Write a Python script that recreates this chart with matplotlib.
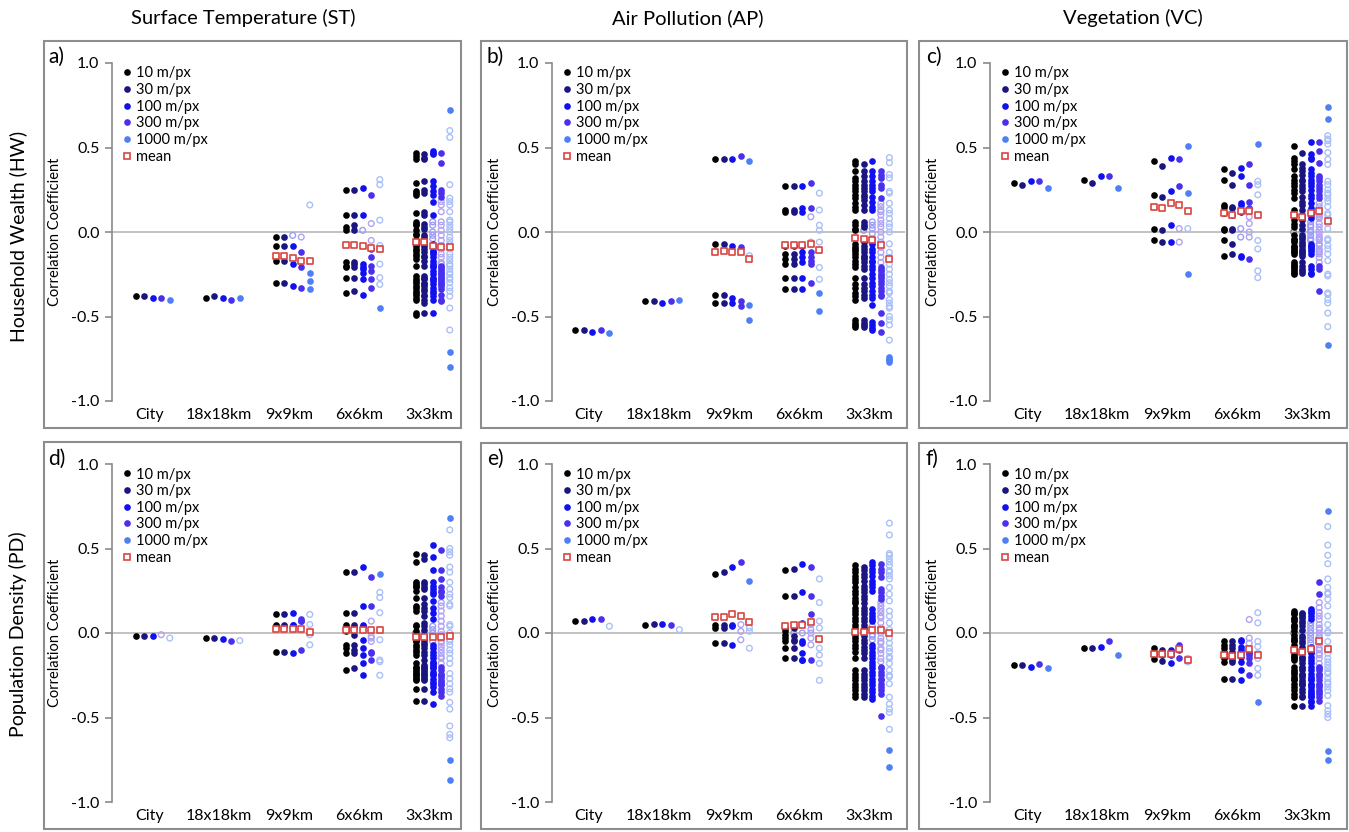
import numpy as np
import matplotlib.pyplot as plt
from matplotlib.lines import Line2D
from matplotlib.patches import Rectangle

plt.rcParams['font.family'] = ['Lato', 'DejaVu Sans']
plt.rcParams['axes.unicode_minus'] = False

scales = ['City', '18x18km', '9x9km', '6x6km', '3x3km']
resolutions = ['10 m/px', '30 m/px', '100 m/px', '300 m/px', '1000 m/px']
col_titles = ['Surface Temperature (ST)', 'Air Pollution (AP)', 'Vegetation (VC)']
row_titles = ['Household Wealth (HW)', 'Population Density (PD)']

res_colors = ['#000000', '#1b1580', '#1010f0', '#4830ee', '#4f7ff4']
hollow_colors = ['#8c8c8c', '#9b98cc', '#9c9cf6', '#b0a2f5', '#aac0f8']
mean_color = '#d9443f'

# |r| below these is drawn as an open circle (not significant), per scale x resolution
crit_r = [[0.0, 0.0, 0.015, 0.02, 0.05],
          [0.0, 0.0, 0.01, 0.033, 0.11],
          [0.0, 0.005, 0.022, 0.065, 0.22],
          [0.003, 0.01, 0.033, 0.098, 0.33],
          [0.0065, 0.02, 0.065, 0.197, 0.665]]

# ---- a) HW vs ST
a_city = [-0.38, -0.38, -0.39, -0.39, -0.40]
a_18km = [-0.39, -0.38, -0.39, -0.40, -0.39]
a_9km = [[-0.03, -0.08, -0.17, -0.30], [-0.03, -0.08, -0.17, -0.30], [-0.02, -0.08, -0.19, -0.32],
         [-0.03, -0.12, -0.21, -0.33], [0.16, -0.24, -0.29, -0.34]]
a_6km = [[0.25, 0.10, 0.03, 0.01, -0.18, -0.20, -0.21, -0.27, -0.36],
         [0.25, 0.10, 0.04, 0.01, -0.18, -0.19, -0.21, -0.27, -0.35],
         [0.26, 0.10, 0.01, -0.19, -0.21, -0.22, -0.24, -0.28, -0.37],
         [0.22, 0.05, -0.05, -0.10, -0.15, -0.20, -0.23, -0.28, -0.33],
         [0.31, 0.28, 0.07, -0.08, -0.10, -0.19, -0.27, -0.31, -0.45]]
a_3km = [[0.47, 0.45, 0.43, 0.29, 0.24, 0.23, 0.22, 0.11, 0.06, 0.05, 0.04, 0.01, -0.01, -0.02, -0.05, -0.07, -0.08, -0.10,
          -0.11, -0.13, -0.14, -0.16, -0.20, -0.26, -0.28, -0.29, -0.30, -0.32, -0.33, -0.35, -0.36, -0.37, -0.39, -0.40, -0.48, -0.49],
         [0.46, 0.44, 0.43, 0.30, 0.25, 0.23, 0.12, 0.10, 0.05, 0.03, 0.02, -0.02, -0.03, -0.05, -0.07, -0.08, -0.10, -0.12,
          -0.14, -0.15, -0.17, -0.20, -0.26, -0.27, -0.28, -0.30, -0.31, -0.32, -0.34, -0.35, -0.37, -0.38, -0.40, -0.42, -0.48, -0.06],
         [0.48, 0.46, 0.47, 0.30, 0.27, 0.24, 0.22, 0.18, 0.10, 0.06, 0.04, 0.0, -0.02, -0.04, -0.07, -0.09, -0.11, -0.13,
          -0.15, -0.17, -0.19, -0.21, -0.23, -0.25, -0.27, -0.29, -0.31, -0.33, -0.35, -0.36, -0.38, -0.40, -0.48, -0.12, -0.20, -0.28],
         [0.47, 0.41, 0.25, 0.23, 0.21, 0.18, 0.16, 0.12, 0.06, 0.04, 0.01, -0.02, -0.05, -0.08, -0.10, -0.13, -0.15, -0.18,
          -0.20, -0.21, -0.22, -0.23, -0.24, -0.25, -0.26, -0.27, -0.28, -0.29, -0.30, -0.31, -0.32, -0.34, -0.37, -0.40, -0.41, -0.19],
         [0.72, 0.60, 0.56, 0.28, 0.20, 0.18, 0.16, 0.12, 0.07, 0.06, 0.02, 0.0, -0.03, -0.05, -0.07, -0.10, -0.13, -0.15,
          -0.17, -0.19, -0.20, -0.22, -0.24, -0.25, -0.27, -0.28, -0.30, -0.33, -0.38, -0.45, -0.58, -0.71, -0.80, -0.09, 0.04, -0.35]]
a_means = [[-0.14, -0.14, -0.155, -0.17, -0.17], [-0.075, -0.075, -0.085, -0.095, -0.10], [-0.06, -0.06, -0.08, -0.09, -0.09]]

# ---- b) HW vs AP
b_city = [-0.58, -0.58, -0.59, -0.58, -0.60]
b_18km = [-0.41, -0.41, -0.42, -0.41, -0.40]
b_9km = [[0.43, -0.07, -0.37, -0.42], [0.43, -0.07, -0.37, -0.42], [0.43, -0.08, -0.39, -0.42],
         [0.45, -0.09, -0.41, -0.44], [0.42, -0.14, -0.43, -0.52]]
b_6km = [[0.27, 0.13, 0.12, -0.08, -0.13, -0.16, -0.19, -0.27, -0.34],
         [0.27, 0.13, 0.12, -0.08, -0.13, -0.16, -0.19, -0.27, -0.34],
         [0.27, 0.14, 0.12, -0.08, -0.12, -0.15, -0.18, -0.27, -0.34],
         [0.29, 0.14, 0.09, -0.06, -0.12, -0.15, -0.17, -0.19, -0.30],
         [0.23, 0.13, 0.04, 0.01, -0.06, -0.21, -0.28, -0.36, -0.47]]
b_3km = [[0.42, 0.40, 0.36, 0.32, 0.30, 0.28, 0.26, 0.24, 0.22, 0.20, 0.17, 0.15, 0.13, 0.06, 0.04, 0.02, -0.07, -0.09,
          -0.11, -0.13, -0.15, -0.17, -0.19, -0.21, -0.27, -0.31, -0.33, -0.36, -0.38, -0.40, -0.52, -0.54, -0.55, -0.56, 0.01, -0.10],
         [0.40, 0.36, 0.33, 0.30, 0.28, 0.26, 0.24, 0.22, 0.19, 0.16, 0.13, 0.06, 0.04, 0.03, -0.06, -0.08, -0.10, -0.12,
          -0.14, -0.16, -0.18, -0.20, -0.22, -0.27, -0.31, -0.33, -0.35, -0.37, -0.39, -0.52, -0.54, -0.55, -0.56, 0.21, -0.15, 0.01],
         [0.42, 0.36, 0.33, 0.30, 0.28, 0.26, 0.24, 0.21, 0.18, 0.15, 0.13, 0.06, 0.04, 0.02, -0.01, -0.04, -0.07, -0.10,
          -0.12, -0.15, -0.17, -0.20, -0.22, -0.25, -0.27, -0.30, -0.32, -0.35, -0.37, -0.39, -0.43, -0.53, -0.55, -0.57, -0.58, -0.18],
         [0.36, 0.34, 0.32, 0.28, 0.26, 0.20, 0.17, 0.15, 0.12, 0.10, 0.07, 0.05, 0.03, 0.0, -0.03, -0.06, -0.09, -0.12,
          -0.15, -0.18, -0.21, -0.23, -0.25, -0.27, -0.29, -0.31, -0.33, -0.35, -0.37, -0.38, -0.48, -0.54, -0.59, -0.22, -0.26, 0.13],
         [0.44, 0.41, 0.34, 0.32, 0.24, 0.23, 0.17, 0.13, 0.11, 0.05, 0.03, -0.07, -0.15, -0.22, -0.25, -0.28, -0.30, -0.35,
          -0.36, -0.40, -0.44, -0.45, -0.50, -0.52, -0.55, -0.64, -0.74, -0.75, -0.76, -0.77, 0.0, -0.12, -0.19, -0.32, 0.08, -0.42]]
b_means = [[-0.12, -0.11, -0.12, -0.12, -0.16], [-0.077, -0.077, -0.077, -0.073, -0.105], [-0.035, -0.04, -0.045, -0.075, -0.16]]

# ---- c) HW vs VC
c_city = [0.29, 0.28, 0.30, 0.30, 0.26]
c_18km = [0.31, 0.29, 0.33, 0.33, 0.26]
c_9km = [[0.42, 0.22, 0.02, -0.05], [0.39, 0.21, 0.01, -0.06], [0.44, 0.24, 0.04, -0.06],
         [0.43, 0.27, 0.02, -0.06], [0.51, 0.23, 0.02, -0.25]]
c_6km = [[0.37, 0.31, 0.16, 0.15, 0.11, 0.02, 0.01, -0.05, -0.14],
         [0.35, 0.28, 0.15, 0.14, 0.10, 0.02, 0.01, -0.07, -0.13],
         [0.38, 0.33, 0.17, 0.16, 0.12, 0.02, -0.03, -0.14, -0.15],
         [0.40, 0.28, 0.18, 0.14, 0.09, 0.05, 0.0, -0.03, -0.16],
         [0.52, 0.30, 0.28, 0.22, 0.10, -0.05, -0.10, -0.23, -0.27]]
c_3km = [[0.51, 0.44, 0.42, 0.40, 0.37, 0.33, 0.31, 0.29, 0.27, 0.25, 0.23, 0.20, 0.13, 0.10, 0.05, 0.03, 0.0, -0.02,
          -0.04, -0.05, -0.06, -0.08, -0.09, -0.10, -0.11, -0.12, -0.13, -0.18, -0.19, -0.20, -0.21, -0.22, -0.23, -0.24, -0.25, 0.07],
         [0.47, 0.40, 0.38, 0.36, 0.34, 0.31, 0.30, 0.28, 0.26, 0.24, 0.21, 0.18, 0.16, 0.13, 0.10, 0.08, 0.07, 0.04,
          0.02, 0.0, -0.02, -0.03, -0.04, -0.06, -0.07, -0.08, -0.10, -0.11, -0.12, -0.13, -0.14, -0.18, -0.20, -0.22, -0.23, -0.24],
         [0.53, 0.46, 0.44, 0.43, 0.37, 0.35, 0.33, 0.31, 0.29, 0.27, 0.25, 0.22, 0.20, 0.17, 0.14, 0.12, 0.10, 0.08,
          0.06, 0.04, 0.03, 0.01, 0.0, -0.02, -0.04, -0.05, -0.07, -0.08, -0.09, -0.10, -0.11, -0.13, -0.20, -0.22, -0.24, -0.25],
         [0.53, 0.48, 0.41, 0.33, 0.32, 0.30, 0.28, 0.26, 0.24, 0.22, 0.20, 0.17, 0.15, 0.13, 0.11, 0.10, 0.09, 0.08,
          0.05, 0.03, 0.01, -0.01, -0.03, -0.04, -0.05, -0.07, -0.08, -0.10, -0.11, -0.12, -0.13, -0.15, -0.18, -0.20, -0.22, -0.35],
         [0.74, 0.67, 0.57, 0.55, 0.54, 0.52, 0.47, 0.43, 0.40, 0.28, 0.25, 0.23, 0.22, 0.20, 0.18, 0.11, 0.05, -0.04,
          -0.05, -0.08, -0.17, -0.25, -0.26, -0.36, -0.37, -0.40, -0.42, -0.48, -0.56, -0.67, 0.10, 0.02, -0.10, 0.30, -0.13, 0.15]]
c_means = [[0.15, 0.14, 0.17, 0.16, 0.125], [0.11, 0.10, 0.125, 0.125, 0.10], [0.10, 0.09, 0.11, 0.125, 0.065]]

# ---- d) PD vs ST
d_city = [-0.02, -0.02, -0.02, -0.01, -0.03]
d_18km = [-0.03, -0.03, -0.035, -0.045, -0.045]
d_9km = [[0.11, 0.05, 0.04, -0.11], [0.11, 0.05, 0.04, -0.11], [0.12, 0.05, 0.05, -0.12],
         [0.08, 0.07, 0.07, -0.10], [0.11, 0.05, -0.01, -0.07]]
d_6km = [[0.36, 0.12, 0.05, 0.03, 0.01, -0.07, -0.09, -0.12, -0.22],
         [0.36, 0.12, 0.05, 0.03, -0.01, -0.07, -0.10, -0.12, -0.21],
         [0.39, 0.16, 0.05, 0.04, -0.04, -0.09, -0.13, -0.18, -0.25],
         [0.33, 0.16, 0.07, -0.02, -0.03, -0.05, -0.11, -0.12, -0.16],
         [0.35, 0.24, 0.21, 0.12, 0.02, -0.04, -0.16, -0.17, -0.25]]
d_3km = [[0.47, 0.42, 0.30, 0.29, 0.28, 0.27, 0.25, 0.21, 0.16, 0.15, 0.13, 0.05, 0.04, 0.01, 0.0, -0.01, -0.03, -0.05,
          -0.05, -0.07, -0.08, -0.10, -0.11, -0.13, -0.18, -0.20, -0.21, -0.22, -0.23, -0.24, -0.25, -0.26, -0.27, -0.28, -0.33, -0.40],
         [0.46, 0.44, 0.30, 0.29, 0.27, 0.26, 0.21, 0.17, 0.15, 0.13, 0.10, 0.06, 0.04, 0.02, 0.0, -0.02, -0.03, -0.04,
          -0.06, -0.07, -0.09, -0.11, -0.13, -0.16, -0.19, -0.20, -0.21, -0.22, -0.23, -0.24, -0.25, -0.26, -0.27, -0.28, -0.33, -0.40],
         [0.52, 0.45, 0.37, 0.30, 0.28, 0.26, 0.24, 0.23, 0.19, 0.15, 0.12, 0.08, 0.04, 0.02, 0.0, -0.02, -0.05, -0.07,
          -0.09, -0.11, -0.13, -0.15, -0.17, -0.18, -0.19, -0.20, -0.21, -0.23, -0.24, -0.25, -0.27, -0.29, -0.30, -0.32, -0.35, -0.42],
         [0.49, 0.37, 0.32, 0.27, 0.25, 0.24, 0.22, 0.18, 0.16, 0.13, 0.10, 0.07, 0.04, 0.01, -0.01, -0.03, -0.05, -0.06,
          -0.08, -0.10, -0.12, -0.14, -0.15, -0.18, -0.20, -0.22, -0.24, -0.25, -0.26, -0.28, -0.29, -0.30, -0.31, -0.33, -0.35, -0.37],
         [0.68, 0.61, 0.50, 0.48, 0.46, 0.39, 0.36, 0.26, 0.23, 0.17, 0.16, 0.05, 0.04, 0.0, -0.02, -0.04, -0.05, -0.07,
          -0.10, -0.15, -0.18, -0.24, -0.27, -0.30, -0.33, -0.35, -0.41, -0.45, -0.55, -0.60, -0.62, -0.75, -0.87, 0.30, -0.12, 0.21]]
d_means = [[0.025, 0.025, 0.025, 0.025, 0.006], [0.016, 0.016, 0.016, 0.016, 0.016], [-0.025, -0.025, -0.025, -0.025, -0.016]]

# ---- e) PD vs AP
e_city = [0.07, 0.07, 0.08, 0.08, 0.04]
e_18km = [0.045, 0.055, 0.055, 0.045, 0.02]
e_9km = [[0.35, 0.05, 0.03, -0.06], [0.36, 0.05, 0.03, -0.06], [0.39, 0.05, 0.04, -0.07],
         [0.42, 0.05, 0.01, -0.04], [0.31, 0.03, 0.01, -0.09]]
e_6km = [[0.37, 0.22, 0.03, 0.01, -0.01, -0.03, -0.05, -0.09, -0.15],
         [0.38, 0.22, 0.03, 0.0, -0.02, -0.04, -0.05, -0.09, -0.15],
         [0.41, 0.24, 0.06, 0.0, -0.05, -0.06, -0.12, -0.16, -0.16],
         [0.39, 0.22, 0.11, 0.05, 0.02, 0.0, -0.03, -0.07, -0.16],
         [0.32, 0.18, 0.07, 0.03, -0.04, -0.09, -0.13, -0.18, -0.28]]
e_3km = [[0.40, 0.38, 0.36, 0.34, 0.32, 0.30, 0.27, 0.25, 0.23, 0.21, 0.19, 0.18, 0.15, 0.13, 0.11, 0.09, 0.07, 0.05,
          0.03, 0.0, -0.01, -0.03, -0.05, -0.07, -0.09, -0.11, -0.15, -0.22, -0.24, -0.26, -0.28, -0.30, -0.32, -0.34, -0.36, -0.38],
         [0.39, 0.37, 0.35, 0.33, 0.31, 0.28, 0.26, 0.24, 0.22, 0.20, 0.18, 0.15, 0.13, 0.11, 0.09, 0.07, 0.05, 0.03,
          0.01, -0.02, -0.04, -0.06, -0.08, -0.10, -0.12, -0.15, -0.22, -0.24, -0.26, -0.28, -0.30, -0.32, -0.34, -0.36, -0.38, 0.0],
         [0.42, 0.40, 0.38, 0.36, 0.34, 0.31, 0.27, 0.25, 0.14, 0.12, 0.10, 0.08, 0.07, 0.04, 0.02, -0.01, -0.04, -0.07,
          -0.09, -0.11, -0.13, -0.15, -0.17, -0.19, -0.21, -0.23, -0.25, -0.27, -0.29, -0.31, -0.33, -0.35, -0.37, -0.39, 0.29, -0.02],
         [0.41, 0.38, 0.36, 0.24, 0.22, 0.20, 0.18, 0.16, 0.14, 0.12, 0.09, 0.06, 0.03, 0.0, -0.03, -0.06, -0.09, -0.12,
          -0.15, -0.17, -0.20, -0.21, -0.23, -0.25, -0.27, -0.28, -0.30, -0.32, -0.34, -0.36, -0.49, 0.33, 0.26, -0.05, 0.10, -0.10],
         [0.65, 0.58, 0.47, 0.46, 0.44, 0.42, 0.40, 0.37, 0.34, 0.32, 0.27, 0.19, 0.13, 0.10, 0.06, 0.02, -0.06, -0.09,
          -0.14, -0.15, -0.18, -0.22, -0.25, -0.26, -0.30, -0.38, -0.42, -0.45, -0.47, -0.57, -0.69, -0.79, 0.36, -0.03, -0.11, 0.23]]
e_means = [[0.095, 0.095, 0.11, 0.10, 0.065], [0.04, 0.045, 0.05, 0.065, -0.035], [0.005, 0.005, 0.015, 0.015, 0.0]]

# ---- f) PD vs VC
f_city = [-0.19, -0.19, -0.20, -0.185, -0.21]
f_18km = [-0.09, -0.09, -0.085, -0.05, -0.13]
f_9km = [[-0.09, -0.11, -0.13, -0.155], [-0.10, -0.12, -0.13, -0.165], [-0.10, -0.11, -0.13, -0.18],
         [-0.07, -0.08, -0.10, -0.15], [-0.15, -0.16, -0.17, -0.17]]
f_6km = [[-0.05, -0.07, -0.09, -0.11, -0.12, -0.14, -0.15, -0.17, -0.27],
         [-0.05, -0.07, -0.09, -0.11, -0.13, -0.14, -0.16, -0.17, -0.27],
         [-0.04, -0.05, -0.08, -0.10, -0.12, -0.14, -0.17, -0.22, -0.28],
         [0.08, -0.03, -0.06, -0.11, -0.12, -0.13, -0.15, -0.18, -0.25],
         [0.12, 0.06, -0.05, -0.08, -0.12, -0.15, -0.21, -0.25, -0.41]]
f_3km = [[0.13, 0.12, 0.11, 0.09, 0.08, 0.07, 0.05, 0.04, 0.03, 0.01, 0.0, -0.01, -0.03, -0.04, -0.05, -0.07, -0.09, -0.10,
          -0.11, -0.13, -0.14, -0.15, -0.16, -0.20, -0.22, -0.23, -0.24, -0.26, -0.27, -0.28, -0.30, -0.32, -0.34, -0.36, -0.38, -0.43],
         [0.12, 0.11, 0.09, 0.07, 0.06, 0.04, 0.02, 0.0, -0.02, -0.03, -0.05, -0.06, -0.08, -0.10, -0.11, -0.12, -0.14, -0.15,
          -0.16, -0.18, -0.20, -0.21, -0.22, -0.24, -0.25, -0.26, -0.28, -0.29, -0.30, -0.31, -0.33, -0.35, -0.37, -0.38, -0.43, 0.10],
         [0.14, 0.13, 0.12, 0.10, 0.08, 0.06, 0.04, 0.02, 0.0, -0.02, -0.04, -0.06, -0.08, -0.10, -0.12, -0.14, -0.16, -0.18,
          -0.20, -0.22, -0.24, -0.26, -0.27, -0.28, -0.30, -0.31, -0.32, -0.34, -0.35, -0.36, -0.37, -0.38, -0.40, -0.41, -0.43, -0.11],
         [0.30, 0.23, 0.18, 0.15, 0.12, 0.08, 0.05, 0.02, 0.0, -0.02, -0.05, -0.07, -0.09, -0.12, -0.15, -0.18, -0.20, -0.22,
          -0.24, -0.26, -0.28, -0.30, -0.32, -0.34, -0.36, -0.38, -0.40, -0.10, 0.10, -0.25, -0.21, -0.31, -0.35, -0.03, 0.03, -0.13],
         [0.72, 0.63, 0.52, 0.46, 0.41, 0.32, 0.27, 0.24, 0.23, 0.16, 0.10, 0.05, 0.0, -0.05, -0.10, -0.15, -0.17, -0.21,
          -0.23, -0.24, -0.29, -0.30, -0.34, -0.37, -0.43, -0.46, -0.48, -0.50, -0.70, -0.75, 0.20, -0.19, -0.27, 0.01, -0.12, -0.32]]
f_means = [[-0.126, -0.126, -0.126, -0.095, -0.16], [-0.13, -0.135, -0.13, -0.095, -0.13], [-0.10, -0.11, -0.095, -0.05, -0.095]]

panels = [
    ('a)', [a_city, a_18km, a_9km, a_6km, a_3km], a_means),
    ('b)', [b_city, b_18km, b_9km, b_6km, b_3km], b_means),
    ('c)', [c_city, c_18km, c_9km, c_6km, c_3km], c_means),
    ('d)', [d_city, d_18km, d_9km, d_6km, d_3km], d_means),
    ('e)', [e_city, e_18km, e_9km, e_6km, e_3km], e_means),
    ('f)', [f_city, f_18km, f_9km, f_6km, f_3km], f_means),
]

W, H = 1349, 832
fig = plt.figure(figsize=(W / 100, H / 100), dpi=100)

# pixel layout: (spine x, right x, x of first category centre), rows: (y of 1.0, y of -1.0)
col_geom = [(112, 460, 152.7), (552, 905, 592.3), (990, 1343, 1030.7)]
row_geom = [(63, 401), (464, 802)]
boxes = [[(44, 41, 461, 428), (481, 41, 907, 428), (919, 41, 1347, 428)],
         [(44, 442, 461, 829), (481, 443, 907, 829), (919, 443, 1347, 829)]]
letter_xy = [[(48, 57), (487, 57), (926, 57)], [(48, 459), (487, 459), (926, 459)]]
cat_px = 70.0
sub = 0.122

gray = '#8a8a8a'

for k, (letter, cols, means) in enumerate(panels):
    r, c = divmod(k, 3)
    left, right, c0 = col_geom[c]
    top, bot = row_geom[r]
    ax = fig.add_axes([left / W, 1 - bot / H, (right - left) / W, (bot - top) / H])
    ax.set_xlim((left - c0) / cat_px, (right - c0) / cat_px)
    ax.set_ylim(-1.0, 1.0)

    ax.axhline(0, color='#b8b8b8', lw=1.2, zorder=0)

    for si, col in enumerate(cols):
        for ri in range(5):
            vals = np.atleast_1d(np.array(col[ri], dtype=float))
            x = si + (ri - 2) * sub
            sig = np.abs(vals) >= crit_r[si][ri]
            ax.scatter(np.full((~sig).sum(), x), vals[~sig], s=17, facecolors='none',
                       edgecolors=hollow_colors[ri], linewidths=1.0, zorder=2)
            ax.scatter(np.full(sig.sum(), x), vals[sig], s=23, color=res_colors[ri],
                       linewidths=0, zorder=3)

    for mi, mv in enumerate(means):
        si = mi + 2
        ax.scatter(si + (np.arange(5) - 2) * sub, mv, marker='s', s=21, facecolors='white',
                   edgecolors=mean_color, linewidths=1.2, zorder=5)

    for sp in ['top', 'right', 'bottom']:
        ax.spines[sp].set_visible(False)
    ax.spines['left'].set_color(gray)
    ax.spines['left'].set_linewidth(1.2)
    ax.set_yticks([-1.0, -0.5, 0.0, 0.5, 1.0])
    ax.set_yticklabels(['-1.0', '-0.5', '0.0', '0.5', '1.0'])
    ax.tick_params(axis='y', direction='out', length=5, width=1.2, color=gray, labelsize=11.5, pad=4)
    ax.set_xticks(np.arange(5) - 0.05)
    ax.set_xticklabels(scales)
    ax.tick_params(axis='x', length=0, labelsize=11.5, pad=5)
    ax.set_ylabel('Correlation Coefficient', fontsize=10.5)
    ax.yaxis.set_label_coords(-50 / (right - left), 0.5)

    handles = [Line2D([], [], ls='none', marker='o', ms=4.8, mec='none', mfc=res_colors[i]) for i in range(5)]
    handles.append(Line2D([], [], ls='none', marker='s', ms=4.8, mfc='white', mec=mean_color, mew=1.2))
    ax.legend(handles, resolutions + ['mean'], loc='upper left',
              bbox_to_anchor=(10.5 / (right - left), (bot - top - 3.5) / (bot - top)),
              frameon=False, fontsize=10.5, handlelength=0.6, handletextpad=0.35,
              labelspacing=0.18, borderpad=0, borderaxespad=0)

    bx0, by0, bx1, by1 = boxes[r][c]
    fig.add_artist(Rectangle((bx0 / W, 1 - by1 / H), (bx1 - bx0) / W, (by1 - by0) / H,
                             transform=fig.transFigure, fill=False, edgecolor='#8d8d8d', lw=1.5))
    lx, ly = letter_xy[r][c]
    fig.text(lx / W, 1 - ly / H, letter, fontsize=15, ha='left', va='center')

col_centers = [243, 688, 1133]
for t, cx in zip(col_titles, col_centers):
    fig.text(cx / W, 1 - 18 / H, t, fontsize=14.5, ha='center', va='center')
for t, cy in zip(row_titles, [236, 634]):
    fig.text(18 / W, 1 - cy / H, t, fontsize=14, rotation=90, ha='center', va='center')

fig.savefig('out.png', dpi=100)
